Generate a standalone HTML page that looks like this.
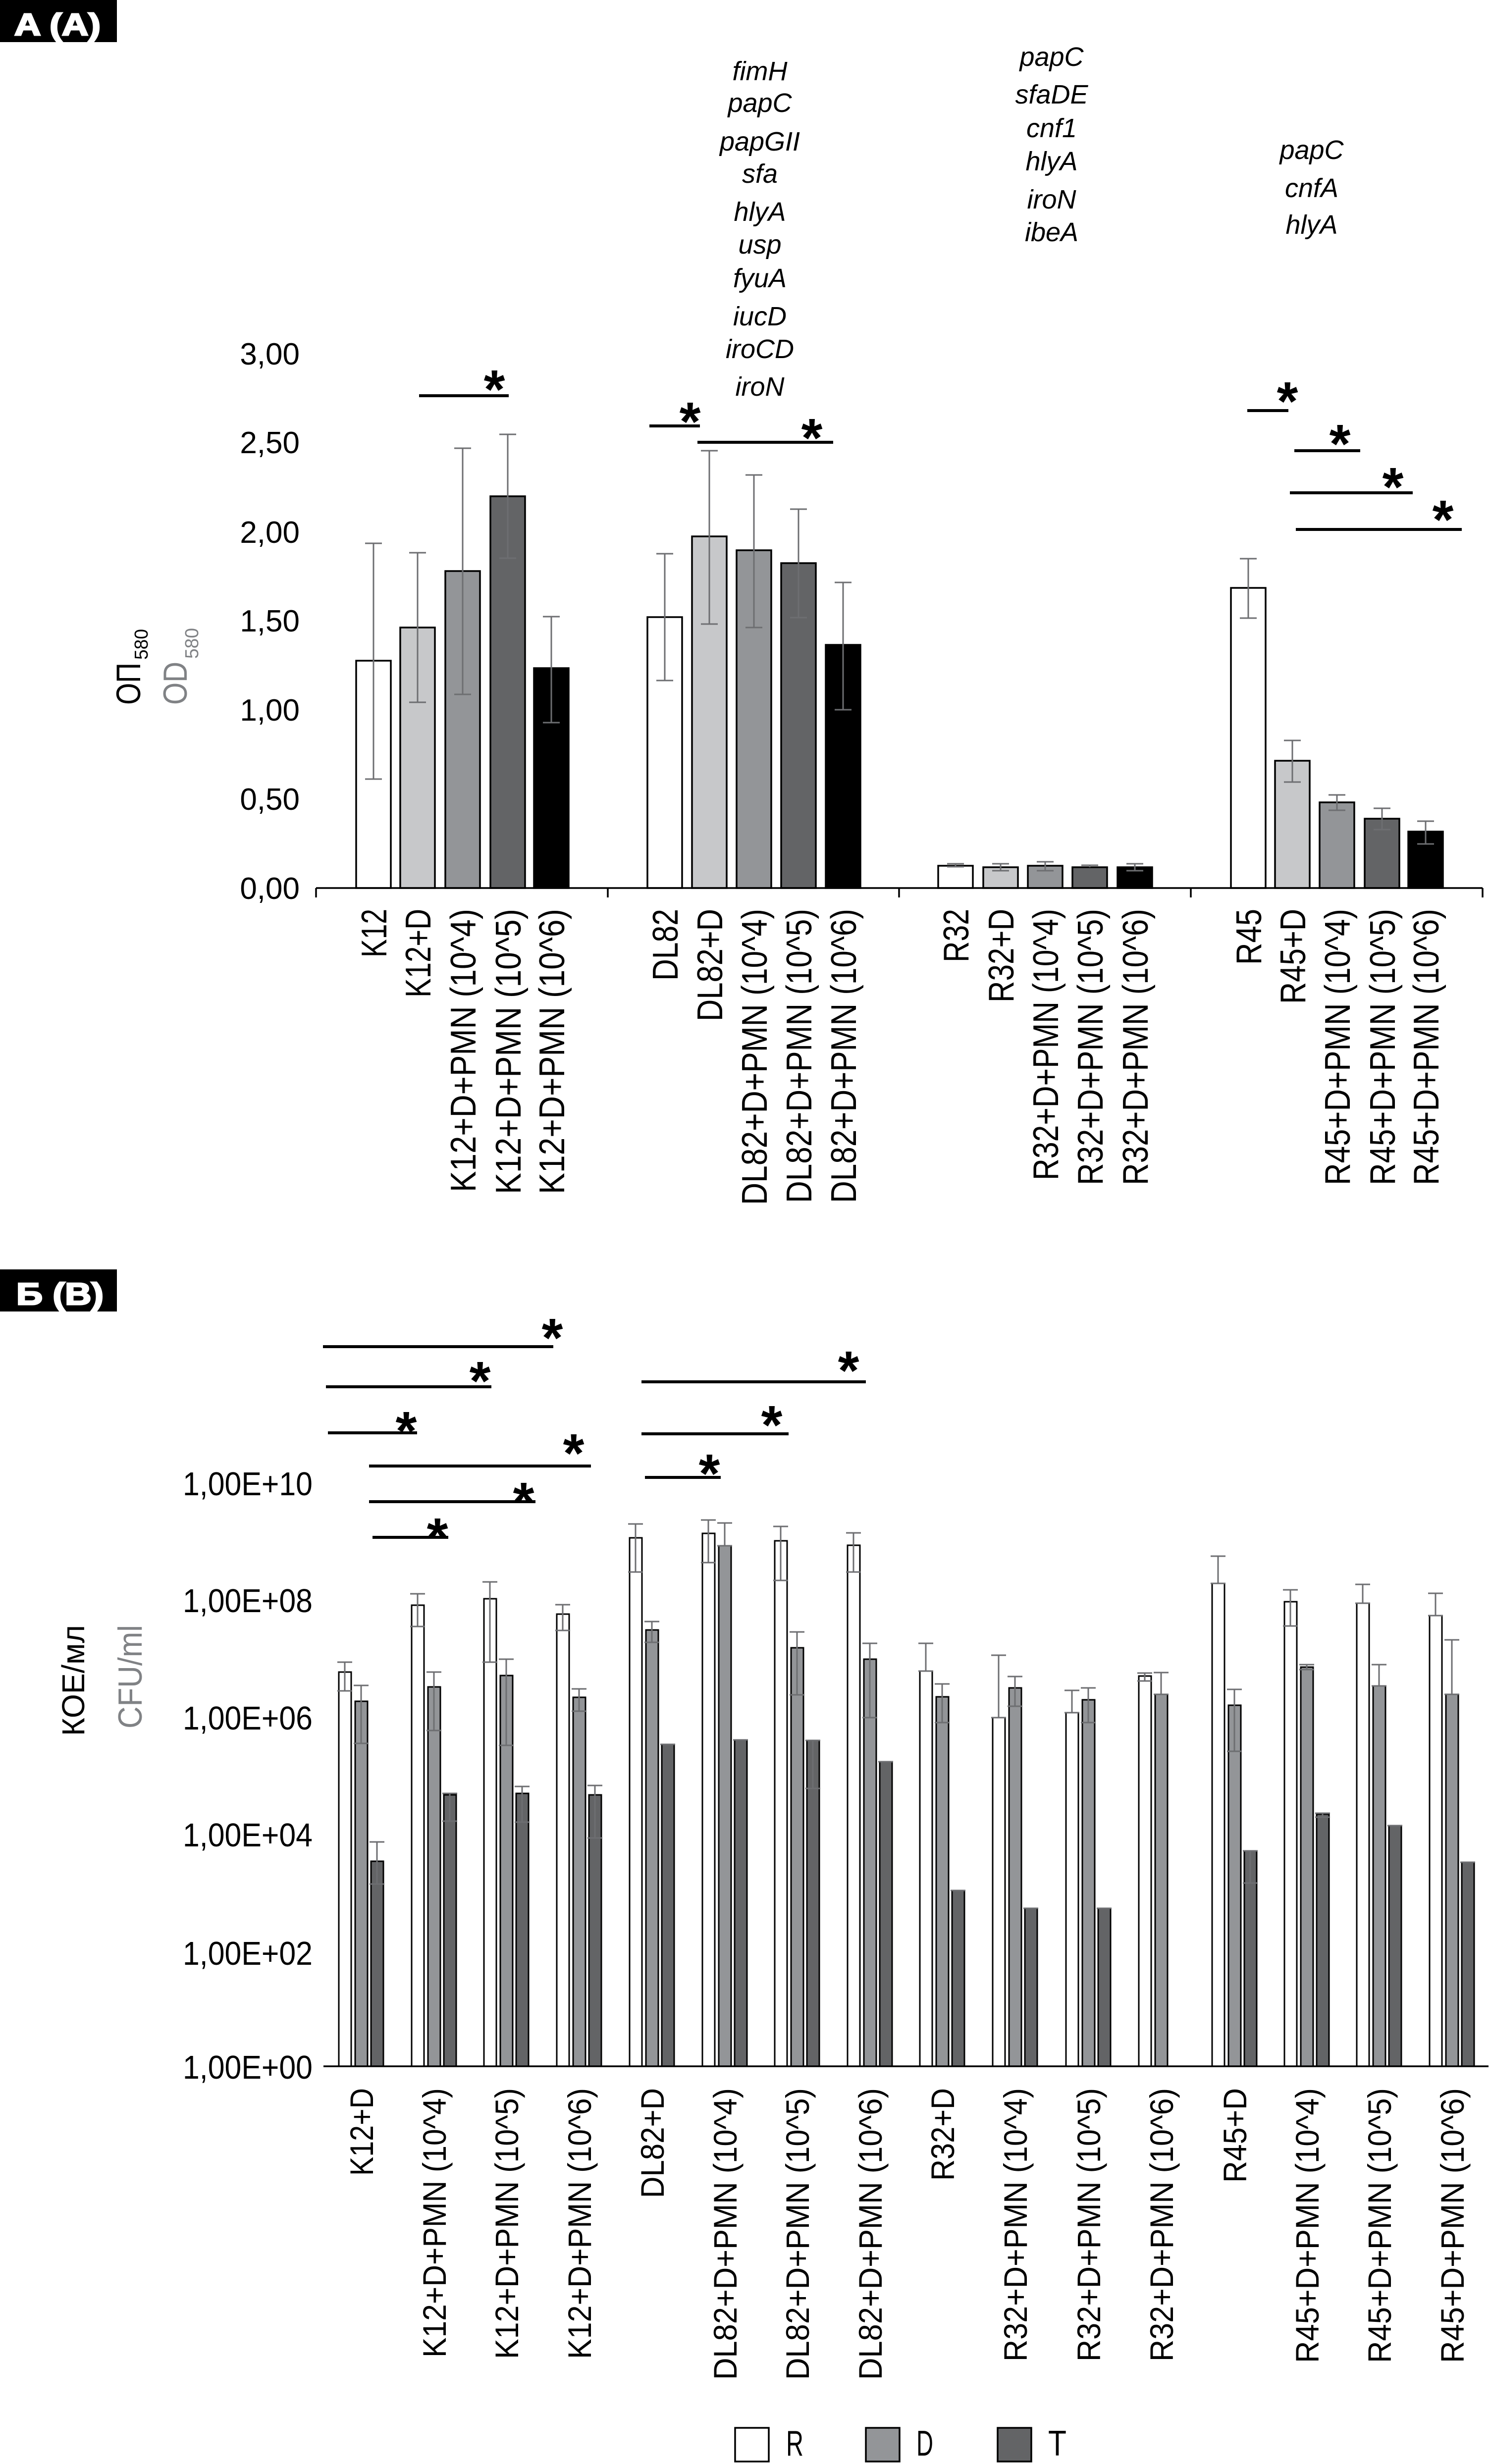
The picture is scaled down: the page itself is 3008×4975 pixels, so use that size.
<!DOCTYPE html>
<html>
<head>
<meta charset="utf-8">
<style>
html,body{margin:0;padding:0;background:#fff;}
body{width:3008px;height:4975px;overflow:hidden;}
svg{display:block;}
text{font-family:"Liberation Sans",Arial,sans-serif;}
</style>
</head>
<body>
<svg xmlns="http://www.w3.org/2000/svg" width="3008" height="4975" viewBox="0 0 3008 4975">
<rect x="0" y="0" width="3008" height="4975" fill="#fff"/>

<!-- ================= PANEL A ================= -->
<rect x="0" y="0" width="236" height="85" fill="#000"/>
<text x="29" y="71" font-size="62" font-weight="bold" fill="#fff" stroke="#fff" stroke-width="3" textLength="174" lengthAdjust="spacingAndGlyphs">A (A)</text>

<!-- y label -->
<text transform="translate(283,1423) rotate(-90)" x="0" y="0" font-size="69" fill="#000" textLength="85" lengthAdjust="spacingAndGlyphs">ОП</text>
<text transform="translate(298,1332) rotate(-90)" x="0" y="0" font-size="38" fill="#000" textLength="62" lengthAdjust="spacingAndGlyphs">580</text>
<text transform="translate(377,1423) rotate(-90)" x="0" y="0" font-size="68" fill="#808285" textLength="87" lengthAdjust="spacingAndGlyphs">OD</text>
<text transform="translate(400,1330) rotate(-90)" x="0" y="0" font-size="38" fill="#808285" textLength="62" lengthAdjust="spacingAndGlyphs">580</text>

<!-- y ticks labels -->
<g font-size="62" text-anchor="end" fill="#000">
<text x="605" y="736">3,00</text>
<text x="605" y="915">2,50</text>
<text x="605" y="1096">2,00</text>
<text x="605" y="1275">1,50</text>
<text x="605" y="1455">1,00</text>
<text x="605" y="1635">0,50</text>
<text x="605" y="1815">0,00</text>
</g>

<!-- gene lists -->
<g font-size="54" font-style="italic" text-anchor="middle" fill="#000">
<text x="1534" y="162">fimH</text>
<text x="1534" y="226">papC</text>
<text x="1534" y="304">papGII</text>
<text x="1534" y="369">sfa</text>
<text x="1534" y="446">hlyA</text>
<text x="1534" y="512">usp</text>
<text x="1534" y="580">fyuA</text>
<text x="1534" y="657">iucD</text>
<text x="1534" y="723">iroCD</text>
<text x="1534" y="799">iroN</text>

<text x="2123" y="133">papC</text>
<text x="2123" y="209">sfaDE</text>
<text x="2123" y="277">cnf1</text>
<text x="2123" y="344">hlyA</text>
<text x="2123" y="421">iroN</text>
<text x="2123" y="487">ibeA</text>

<text x="2648" y="321">papC</text>
<text x="2648" y="398">cnfA</text>
<text x="2648" y="472">hlyA</text>
</g>

<!-- bars A -->
<g stroke="#000" stroke-width="3.5">
<rect x="719" y="1334" width="70" height="459" fill="#fff"/>
<rect x="808" y="1267" width="70" height="526" fill="#c7c8ca"/>
<rect x="899" y="1153" width="70" height="640" fill="#939598"/>
<rect x="990" y="1002" width="70" height="791" fill="#636466"/>
<rect x="1078" y="1349" width="70" height="444" fill="#000"/>

<rect x="1307" y="1246" width="70" height="547" fill="#fff"/>
<rect x="1397" y="1083" width="70" height="710" fill="#c7c8ca"/>
<rect x="1487" y="1111" width="70" height="682" fill="#939598"/>
<rect x="1577" y="1137" width="70" height="656" fill="#636466"/>
<rect x="1667" y="1302" width="70" height="491" fill="#000"/>

<rect x="1894" y="1748" width="70" height="45" fill="#fff"/>
<rect x="1985" y="1751" width="70" height="42" fill="#c7c8ca"/>
<rect x="2075" y="1748" width="70" height="45" fill="#939598"/>
<rect x="2165" y="1751" width="70" height="42" fill="#636466"/>
<rect x="2256" y="1751" width="70" height="42" fill="#000"/>

<rect x="2485" y="1187" width="70" height="606" fill="#fff"/>
<rect x="2574" y="1536" width="70" height="257" fill="#c7c8ca"/>
<rect x="2664" y="1620" width="70" height="173" fill="#939598"/>
<rect x="2755" y="1653" width="70" height="140" fill="#636466"/>
<rect x="2843" y="1679" width="70" height="114" fill="#000"/>
</g>

<!-- error bars A -->
<g stroke="#6d6e71" stroke-width="3" fill="none">
<path d="M754 1097V1573M737 1097H771M737 1573H771"/>
<path d="M843 1116V1418M826 1116H860M826 1418H860"/>
<path d="M934 905V1402M917 905H951M917 1402H951"/>
<path d="M1025 877V1127M1008 877H1042M1008 1127H1042"/>
<path d="M1113 1245V1459M1096 1245H1130M1096 1459H1130"/>

<path d="M1342 1118V1374M1325 1118H1359M1325 1374H1359"/>
<path d="M1432 910V1260M1415 910H1449M1415 1260H1449"/>
<path d="M1522 959V1267M1505 959H1539M1505 1267H1539"/>
<path d="M1612 1028V1247M1595 1028H1629M1595 1247H1629"/>
<path d="M1702 1176V1433M1685 1176H1719M1685 1433H1719"/>

<path d="M1929 1744V1750M1912 1744H1946M1912 1750H1946"/>
<path d="M2020 1744V1758M2003 1744H2037M2003 1758H2037"/>
<path d="M2110 1740V1758M2093 1740H2127M2093 1758H2127"/>
<path d="M2200 1747V1751M2183 1747H2217"/>
<path d="M2291 1744V1758M2274 1744H2308M2274 1758H2308"/>

<path d="M2520 1128V1248M2503 1128H2537M2503 1248H2537"/>
<path d="M2609 1495V1579M2592 1495H2626M2592 1579H2626"/>
<path d="M2699 1605V1636M2682 1605H2716M2682 1636H2716"/>
<path d="M2790 1632V1675M2773 1632H2807M2773 1675H2807"/>
<path d="M2878 1658V1704M2861 1658H2895M2861 1704H2895"/>
</g>

<!-- axis A -->
<g stroke="#000" stroke-width="3.5" fill="none">
<path d="M638 1793H2993"/>
<path d="M638 1793V1812M1227 1793V1812M1815 1793V1812M2404 1793V1812M2993 1793V1812"/>
</g>

<!-- significance A -->
<g stroke="#000" stroke-width="6">
<path d="M846 799H1027"/>
<path d="M1311 860H1413"/>
<path d="M1408 893H1682"/>
<path d="M2518 829H2601"/>
<path d="M2613 910H2746"/>
<path d="M2604 995H2852"/>
<path d="M2616 1069H2951"/>
</g>
<g font-size="110" font-weight="bold" text-anchor="middle" fill="#000">
<text x="998" y="824">*</text>
<text x="1393" y="889">*</text>
<text x="1639" y="922">*</text>
<text x="2599" y="848">*</text>
<text x="2705" y="934">*</text>
<text x="2812" y="1021">*</text>
<text x="2913" y="1087">*</text>
</g>

<!-- x labels A -->
<g font-size="72" fill="#000">
<text transform="translate(780,1835) rotate(-90)" x="-98" textLength="98" lengthAdjust="spacingAndGlyphs">K12</text>
<text transform="translate(869,1835) rotate(-90)" x="-179" textLength="179" lengthAdjust="spacingAndGlyphs">K12+D</text>
<text transform="translate(960,1835) rotate(-90)" x="-572" textLength="572" lengthAdjust="spacingAndGlyphs">K12+D+PMN (10^4)</text>
<text transform="translate(1051,1835) rotate(-90)" x="-576" textLength="576" lengthAdjust="spacingAndGlyphs">K12+D+PMN (10^5)</text>
<text transform="translate(1139,1835) rotate(-90)" x="-576" textLength="576" lengthAdjust="spacingAndGlyphs">K12+D+PMN (10^6)</text>

<text transform="translate(1368,1835) rotate(-90)" x="-145" textLength="145" lengthAdjust="spacingAndGlyphs">DL82</text>
<text transform="translate(1458,1835) rotate(-90)" x="-227" textLength="227" lengthAdjust="spacingAndGlyphs">DL82+D</text>
<text transform="translate(1548,1835) rotate(-90)" x="-598" textLength="598" lengthAdjust="spacingAndGlyphs">DL82+D+PMN (10^4)</text>
<text transform="translate(1638,1835) rotate(-90)" x="-594" textLength="594" lengthAdjust="spacingAndGlyphs">DL82+D+PMN (10^5)</text>
<text transform="translate(1728,1835) rotate(-90)" x="-594" textLength="594" lengthAdjust="spacingAndGlyphs">DL82+D+PMN (10^6)</text>

<text transform="translate(1955,1835) rotate(-90)" x="-108" textLength="108" lengthAdjust="spacingAndGlyphs">R32</text>
<text transform="translate(2046,1835) rotate(-90)" x="-189" textLength="189" lengthAdjust="spacingAndGlyphs">R32+D</text>
<text transform="translate(2136,1835) rotate(-90)" x="-548" textLength="548" lengthAdjust="spacingAndGlyphs">R32+D+PMN (10^4)</text>
<text transform="translate(2226,1835) rotate(-90)" x="-558" textLength="558" lengthAdjust="spacingAndGlyphs">R32+D+PMN (10^5)</text>
<text transform="translate(2317,1835) rotate(-90)" x="-558" textLength="558" lengthAdjust="spacingAndGlyphs">R32+D+PMN (10^6)</text>

<text transform="translate(2546,1835) rotate(-90)" x="-113" textLength="113" lengthAdjust="spacingAndGlyphs">R45</text>
<text transform="translate(2635,1835) rotate(-90)" x="-192" textLength="192" lengthAdjust="spacingAndGlyphs">R45+D</text>
<text transform="translate(2725,1835) rotate(-90)" x="-558" textLength="558" lengthAdjust="spacingAndGlyphs">R45+D+PMN (10^4)</text>
<text transform="translate(2816,1835) rotate(-90)" x="-558" textLength="558" lengthAdjust="spacingAndGlyphs">R45+D+PMN (10^5)</text>
<text transform="translate(2904,1835) rotate(-90)" x="-558" textLength="558" lengthAdjust="spacingAndGlyphs">R45+D+PMN (10^6)</text>
</g>

<!-- ================= PANEL B ================= -->
<rect x="0" y="2563" width="236" height="85" fill="#000"/>
<text x="33" y="2634" font-size="62" font-weight="bold" fill="#fff" stroke="#fff" stroke-width="3" textLength="176" lengthAdjust="spacingAndGlyphs">Б (В)</text>

<!-- y label B -->
<text transform="translate(170,3505) rotate(-90)" x="0" y="0" font-size="64" fill="#000" textLength="224" lengthAdjust="spacingAndGlyphs">КОЕ/мл</text>
<text transform="translate(286,3490) rotate(-90)" x="0" y="0" font-size="68" fill="#808285" textLength="209" lengthAdjust="spacingAndGlyphs">CFU/ml</text>

<!-- y tick labels B -->
<g font-size="67" fill="#000">
<text x="369" y="3019" textLength="262" lengthAdjust="spacingAndGlyphs">1,00E+10</text>
<text x="369" y="3255" textLength="262" lengthAdjust="spacingAndGlyphs">1,00E+08</text>
<text x="369" y="3492" textLength="262" lengthAdjust="spacingAndGlyphs">1,00E+06</text>
<text x="369" y="3728" textLength="262" lengthAdjust="spacingAndGlyphs">1,00E+04</text>
<text x="369" y="3967" textLength="262" lengthAdjust="spacingAndGlyphs">1,00E+02</text>
<text x="369" y="4197" textLength="262" lengthAdjust="spacingAndGlyphs">1,00E+00</text>
</g>

<!-- bars B -->
<g stroke="#000" stroke-width="3">
<rect x="684" y="3376" width="25" height="796" fill="#fff"/>
<rect x="717" y="3435" width="25" height="737" fill="#939598"/>
<rect x="749" y="3758" width="25" height="414" fill="#636466"/>
<rect x="831" y="3241" width="25" height="931" fill="#fff"/>
<rect x="864" y="3406" width="25" height="766" fill="#939598"/>
<rect x="896" y="3624" width="25" height="548" fill="#636466"/>
<rect x="977" y="3228" width="25" height="944" fill="#fff"/>
<rect x="1010" y="3383" width="25" height="789" fill="#939598"/>
<rect x="1042" y="3621" width="25" height="551" fill="#636466"/>
<rect x="1124" y="3259" width="25" height="913" fill="#fff"/>
<rect x="1157" y="3427" width="25" height="745" fill="#939598"/>
<rect x="1189" y="3624" width="25" height="548" fill="#636466"/>
<rect x="1271" y="3105" width="25" height="1067" fill="#fff"/>
<rect x="1304" y="3291" width="25" height="881" fill="#939598"/>
<rect x="1336" y="3522" width="25" height="650" fill="#636466"/>
<rect x="1418" y="3096" width="25" height="1076" fill="#fff"/>
<rect x="1451" y="3121" width="25" height="1051" fill="#939598"/>
<rect x="1483" y="3513" width="25" height="659" fill="#636466"/>
<rect x="1564" y="3111" width="25" height="1061" fill="#fff"/>
<rect x="1597" y="3327" width="25" height="845" fill="#939598"/>
<rect x="1629" y="3514" width="25" height="658" fill="#636466"/>
<rect x="1711" y="3120" width="25" height="1052" fill="#fff"/>
<rect x="1744" y="3350" width="25" height="822" fill="#939598"/>
<rect x="1776" y="3557" width="25" height="615" fill="#636466"/>
<rect x="1857" y="3374" width="25" height="798" fill="#fff"/>
<rect x="1890" y="3426" width="25" height="746" fill="#939598"/>
<rect x="1922" y="3817" width="25" height="355" fill="#636466"/>
<rect x="2004" y="3468" width="25" height="704" fill="#fff"/>
<rect x="2037" y="3408" width="25" height="764" fill="#939598"/>
<rect x="2069" y="3853" width="25" height="319" fill="#636466"/>
<rect x="2152" y="3458" width="25" height="714" fill="#fff"/>
<rect x="2185" y="3432" width="25" height="740" fill="#939598"/>
<rect x="2217" y="3853" width="25" height="319" fill="#636466"/>
<rect x="2299" y="3384" width="25" height="788" fill="#fff"/>
<rect x="2332" y="3421" width="25" height="751" fill="#939598"/>
<rect x="2447" y="3197" width="25" height="975" fill="#fff"/>
<rect x="2480" y="3443" width="25" height="729" fill="#939598"/>
<rect x="2512" y="3737" width="25" height="435" fill="#636466"/>
<rect x="2593" y="3234" width="25" height="938" fill="#fff"/>
<rect x="2626" y="3366" width="25" height="806" fill="#939598"/>
<rect x="2658" y="3663" width="25" height="509" fill="#636466"/>
<rect x="2739" y="3237" width="25" height="935" fill="#fff"/>
<rect x="2772" y="3404" width="25" height="768" fill="#939598"/>
<rect x="2804" y="3686" width="25" height="486" fill="#636466"/>
<rect x="2886" y="3262" width="25" height="910" fill="#fff"/>
<rect x="2919" y="3421" width="25" height="751" fill="#939598"/>
<rect x="2951" y="3760" width="25" height="412" fill="#636466"/>
</g>

<!-- error bars B -->
<g stroke="#6d6e71" stroke-width="3" fill="none">
<path d="M696 3356V3414M681 3356H711M681 3414H711"/>
<path d="M729 3403V3520M714 3403H744M714 3520H744"/>
<path d="M761 3719V3804M746 3719H776M746 3804H776"/>
<path d="M843 3218V3284M828 3218H858M828 3284H858"/>
<path d="M876 3376V3494M861 3376H891M861 3494H891"/>
<path d="M908 3621V3677M893 3621H923M893 3677H923"/>
<path d="M989 3194V3356M974 3194H1004M974 3356H1004"/>
<path d="M1022 3350V3524M1007 3350H1037M1007 3524H1037"/>
<path d="M1054 3607V3679M1039 3607H1069M1039 3679H1069"/>
<path d="M1136 3240V3292M1121 3240H1151M1121 3292H1151"/>
<path d="M1169 3410V3455M1154 3410H1184M1154 3455H1184"/>
<path d="M1201 3605V3711M1186 3605H1216M1186 3711H1216"/>
<path d="M1283 3077V3174M1268 3077H1298M1268 3174H1298"/>
<path d="M1316 3274V3316M1301 3274H1331M1301 3316H1331"/>
<path d="M1333 3522H1363"/>
<path d="M1430 3069V3155M1415 3069H1445M1415 3155H1445"/>
<path d="M1463 3075V3121M1448 3075H1478M1448 3121H1478"/>
<path d="M1480 3513H1510"/>
<path d="M1576 3082V3191M1561 3082H1591M1561 3191H1591"/>
<path d="M1609 3295V3422M1594 3295H1624M1594 3422H1624"/>
<path d="M1641 3514V3611M1626 3514H1656M1626 3611H1656"/>
<path d="M1723 3095V3174M1708 3095H1738M1708 3174H1738"/>
<path d="M1756 3318V3468M1741 3318H1771M1741 3468H1771"/>
<path d="M1773 3557H1803"/>
<path d="M1869 3318V3374M1854 3318H1884M1854 3374H1884"/>
<path d="M1902 3400V3478M1887 3400H1917M1887 3478H1917"/>
<path d="M1919 3817H1949"/>
<path d="M2016 3342V3468M2001 3342H2031M2001 3468H2031"/>
<path d="M2049 3385V3445M2034 3385H2064M2034 3445H2064"/>
<path d="M2066 3853H2096"/>
<path d="M2164 3413V3458M2149 3413H2179M2149 3458H2179"/>
<path d="M2197 3408V3478M2182 3408H2212M2182 3478H2212"/>
<path d="M2214 3853H2244"/>
<path d="M2311 3378V3394M2296 3378H2326M2296 3394H2326"/>
<path d="M2344 3377V3421M2329 3377H2359M2329 3421H2359"/>
<path d="M2459 3142V3197M2444 3142H2474M2444 3197H2474"/>
<path d="M2492 3411V3536M2477 3411H2507M2477 3536H2507"/>
<path d="M2524 3737V3802M2509 3737H2539M2509 3802H2539"/>
<path d="M2605 3210V3283M2590 3210H2620M2590 3283H2620"/>
<path d="M2638 3361V3371M2623 3361H2653M2623 3371H2653"/>
<path d="M2670 3661V3669M2655 3661H2685M2655 3669H2685"/>
<path d="M2751 3199V3237M2736 3199H2766M2736 3237H2766"/>
<path d="M2784 3361V3404M2769 3361H2799M2769 3404H2799"/>
<path d="M2801 3686H2831"/>
<path d="M2898 3217V3262M2883 3217H2913M2883 3262H2913"/>
<path d="M2931 3311V3421M2916 3311H2946M2916 3421H2946"/>
<path d="M2948 3760H2978"/>
</g>

<!-- axis B -->
<path d="M653 4172H3005" stroke="#000" stroke-width="3.5" fill="none"/>

<!-- significance B -->
<g stroke="#000" stroke-width="6">
<path d="M652 2719H1117"/>
<path d="M658 2800H992"/>
<path d="M662 2893H842"/>
<path d="M745 2960H1193"/>
<path d="M745 3032H1081"/>
<path d="M752 3104H905"/>
<path d="M1295 2790H1748"/>
<path d="M1295 2895H1592"/>
<path d="M1302 2983H1455"/>
</g>
<g font-size="110" font-weight="bold" text-anchor="middle" fill="#000">
<text x="1115" y="2739">*</text>
<text x="969" y="2826">*</text>
<text x="820" y="2927">*</text>
<text x="1158" y="2972">*</text>
<text x="1057" y="3070">*</text>
<text x="883" y="3142">*</text>
<text x="1713" y="2805">*</text>
<text x="1558" y="2915">*</text>
<text x="1432" y="3013">*</text>
</g>

<!-- x labels B -->
<g font-size="66" fill="#000">
<text transform="translate(753,4216) rotate(-90)" x="-177" textLength="177" lengthAdjust="spacingAndGlyphs">K12+D</text>
<text transform="translate(900,4216) rotate(-90)" x="-544" textLength="544" lengthAdjust="spacingAndGlyphs">K12+D+PMN (10^4)</text>
<text transform="translate(1046,4216) rotate(-90)" x="-547" textLength="547" lengthAdjust="spacingAndGlyphs">K12+D+PMN (10^5)</text>
<text transform="translate(1193,4216) rotate(-90)" x="-547" textLength="547" lengthAdjust="spacingAndGlyphs">K12+D+PMN (10^6)</text>
<text transform="translate(1340,4216) rotate(-90)" x="-222" textLength="222" lengthAdjust="spacingAndGlyphs">DL82+D</text>
<text transform="translate(1487,4216) rotate(-90)" x="-589" textLength="589" lengthAdjust="spacingAndGlyphs">DL82+D+PMN (10^4)</text>
<text transform="translate(1633,4216) rotate(-90)" x="-589" textLength="589" lengthAdjust="spacingAndGlyphs">DL82+D+PMN (10^5)</text>
<text transform="translate(1780,4216) rotate(-90)" x="-589" textLength="589" lengthAdjust="spacingAndGlyphs">DL82+D+PMN (10^6)</text>
<text transform="translate(1926,4216) rotate(-90)" x="-187" textLength="187" lengthAdjust="spacingAndGlyphs">R32+D</text>
<text transform="translate(2073,4216) rotate(-90)" x="-552" textLength="552" lengthAdjust="spacingAndGlyphs">R32+D+PMN (10^4)</text>
<text transform="translate(2221,4216) rotate(-90)" x="-552" textLength="552" lengthAdjust="spacingAndGlyphs">R32+D+PMN (10^5)</text>
<text transform="translate(2368,4216) rotate(-90)" x="-552" textLength="552" lengthAdjust="spacingAndGlyphs">R32+D+PMN (10^6)</text>
<text transform="translate(2516,4216) rotate(-90)" x="-191" textLength="191" lengthAdjust="spacingAndGlyphs">R45+D</text>
<text transform="translate(2662,4216) rotate(-90)" x="-555" textLength="555" lengthAdjust="spacingAndGlyphs">R45+D+PMN (10^4)</text>
<text transform="translate(2808,4216) rotate(-90)" x="-555" textLength="555" lengthAdjust="spacingAndGlyphs">R45+D+PMN (10^5)</text>
<text transform="translate(2955,4216) rotate(-90)" x="-555" textLength="555" lengthAdjust="spacingAndGlyphs">R45+D+PMN (10^6)</text>
</g>

<!-- legend -->
<g stroke="#000" stroke-width="3.5">
<rect x="1484" y="4902" width="68" height="68" fill="#fff"/>
<rect x="1748" y="4902" width="68" height="68" fill="#939598"/>
<rect x="2014" y="4902" width="68" height="68" fill="#636466"/>
</g>
<g font-size="72" fill="#000">
<text x="1587" y="4958" textLength="35" lengthAdjust="spacingAndGlyphs">R</text>
<text x="1850" y="4958" textLength="34" lengthAdjust="spacingAndGlyphs">D</text>
<text x="2116" y="4958" textLength="37" lengthAdjust="spacingAndGlyphs">T</text>
</g>
</svg>
</body>
</html>
